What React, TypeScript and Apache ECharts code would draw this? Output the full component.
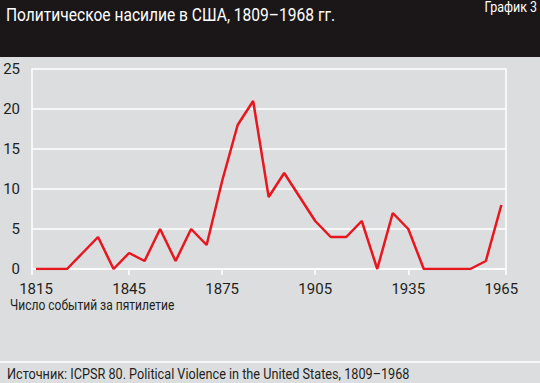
import React, { useEffect, useRef } from "react";
import * as echarts from "echarts";

const years = [1815, 1820, 1825, 1830, 1835, 1840, 1845, 1850, 1855, 1860, 1865, 1870, 1875, 1880, 1885, 1890, 1895, 1900, 1905, 1910, 1915, 1920, 1925, 1930, 1935, 1940, 1945, 1950, 1955, 1960, 1965];
const events = [0, 0, 0, 2, 4, 0, 2, 1, 5, 1, 5, 3, 11, 18, 21, 9, 12, 9, 6, 4, 4, 6, 0, 7, 5, 0, 0, 0, 0, 1, 8];
const xLabels = [1815, 1845, 1875, 1905, 1935, 1965];
const xTicks = [1813.71, 1845, 1875, 1905, 1935, 1966.5];

const titleText = "Политическое насилие в США, 1809–1968 гг.";
const badgeText = "График 3";
const unitText = "Число событий за пятилетие";
const sourceText = "Источник: ICPSR 80. Political Violence in the United States, 1809–1968";

const FONT = "Roboto, 'Noto Sans', sans-serif";
const INK = "#231f20";

export default function App() {
  const ref = useRef<HTMLDivElement>(null);
  useEffect(() => {
    if (!ref.current) return;
    const chart = echarts.init(ref.current, null, { renderer: "svg" });
    const txt = (text: string, x: number, y: number, size: number, sx: number, fill: string, align = "left") => ({
      type: "text",
      x,
      y,
      scaleX: sx,
      z: 10,
      style: { text, fill, fontSize: size, fontFamily: FONT, align, verticalAlign: "top" },
    });
    chart.setOption({
      animation: false,
      backgroundColor: "#dcdddf",
      textStyle: { fontFamily: FONT },
      graphic: [
        { type: "rect", shape: { x: 0, y: 0, width: 540, height: 57 }, style: { fill: "#1b1718" }, z: 0 },
        { type: "line", shape: { x1: 0, y1: 362, x2: 540, y2: 362 }, style: { stroke: "#ffffff", lineWidth: 1.5 } },
        txt(titleText, 6, 5, 19, 0.82, "#ffffff"),
        txt(badgeText, 537, 0, 14, 0.89, "#ffffff", "right"),
        txt(unitText, 10, 298, 14, 0.86, INK),
        txt(sourceText, 7, 367, 14, 0.905, INK),
      ],
      grid: { left: 32, right: 34, top: 69, bottom: 114 },
      xAxis: {
        type: "value",
        min: 1813.71,
        max: 1966.5,
        axisLine: { show: true, lineStyle: { color: "#ffffff", width: 1.5 } },
        axisTick: { show: true, customValues: xTicks, length: 6, lineStyle: { color: "#ffffff", width: 1.5 } },
        axisLabel: { customValues: xLabels, formatter: (v: number) => String(Math.round(v)), color: INK, fontSize: 15, fontFamily: FONT, margin: 12 },
        splitLine: { show: false },
      },
      yAxis: [
        {
          type: "value",
          min: 0,
          max: 25,
          interval: 5,
          axisLine: { show: true, lineStyle: { color: "#ffffff", width: 1.5 } },
          axisTick: { show: false },
          axisLabel: { color: INK, fontSize: 15, fontFamily: FONT, margin: 12 },
          splitLine: { show: true, lineStyle: { color: "#ffffff", width: 1.5 } },
        },
        {
          type: "value",
          position: "right",
          min: 0,
          max: 25,
          interval: 5,
          axisLine: { show: true, lineStyle: { color: "#ffffff", width: 1.5 } },
          axisTick: { show: false },
          axisLabel: { show: false },
          splitLine: { show: false },
        },
      ],
      series: [
        {
          type: "line",
          data: years.map((y, i) => [y, events[i]]),
          symbol: "none",
          lineStyle: { color: "#e8161f", width: 2.5 },
          z: 5,
        },
      ],
    });
    return () => chart.dispose();
  }, []);
  return <div ref={ref} style={{ position: "absolute", left: 0, top: 0, width: 540, height: 383 }} />;
}
